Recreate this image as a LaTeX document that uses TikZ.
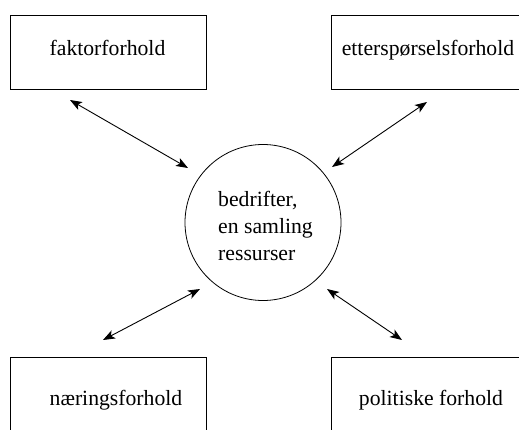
\documentclass[tikz,border=0pt]{standalone}
\usepackage{fontspec}
\setmainfont{Liberation Serif}
\usetikzlibrary{arrows.meta}
\begin{document}
\begin{tikzpicture}[x=1pt,y=1pt,
  box/.style={draw, line width=0.8pt, minimum width=196pt, minimum height=74pt, inner sep=0pt},
  lbl/.style={inner sep=0pt, anchor=base, font=\fontsize{21.7}{27}\selectfont},
  tip/.tip={Stealth[length=12pt,width=9pt,inset=3pt]},
  rel/.style={line width=0.9pt, tip-tip}]
\useasboundingbox (0,0) rectangle (519,429);
\node[box] (tl) at (108,377) {};
\node[box] (tr) at (429,377) {};
\node[box] (bl) at (108,35) {};
\node[box] (br) at (429,35) {};
\node[lbl] (tlt) at (107.5,373) {faktorforhold};
\node[lbl] (trt) at (428,373.5) {etterspørselsforhold};
\node[lbl] (blt) at (116,24) {næringsforhold};
\node[lbl] (brt) at (431,24) {politiske forhold};
\node[draw, circle, line width=0.8pt, minimum size=156pt, inner sep=0pt] (c) at (263,206.5) {};
\node[lbl, anchor=base west, align=left] (ct) at (218,169) {bedrifter,\\en samling\\ressurser};
\coordinate (a1s) at (70,329);  \coordinate (a1e) at (188,261);
\coordinate (a2s) at (427,327); \coordinate (a2e) at (332,262);
\coordinate (a3s) at (200,140); \coordinate (a3e) at (103,89);
\coordinate (a4s) at (327,140); \coordinate (a4e) at (402,89);
\draw[rel] (a1s) -- (a1e);
\draw[rel] (a2s) -- (a2e);
\draw[rel] (a3s) -- (a3e);
\draw[rel] (a4s) -- (a4e);
\end{tikzpicture}
\end{document}
